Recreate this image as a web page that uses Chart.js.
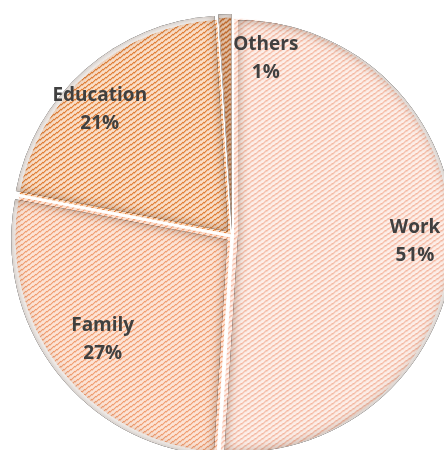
<!DOCTYPE html>
<html>
<head>
<meta charset="utf-8">
<script src="https://cdn.jsdelivr.net/npm/chart.js@4"></script>
<style>
html, body { margin: 0; padding: 0; overflow: hidden; background: #fff; }
#wrap { position: absolute; left: 0; top: 0; }
</style>
</head>
<body>
<div id="wrap"><canvas id="reasonChart" width="464" height="472"></canvas></div>
<script>
const categories = ['Work', 'Family', 'Education', 'Others'];
const shares = [51, 27, 21, 1];

// per slice: paper colour, stripe colour, stripe edge colour
const stripeColors = [
    ['#fdeee8', '#f4b39b', '#f8d2c3'],
    ['#fde4d6', '#f09a6c', '#f6c2a6'],
    ['#fadfc9', '#df762b', '#eeb07e'],
    ['#f5d2b6', '#c45a12', '#d98a50'],
];
// where each label sits: share of radius and a small turn in degrees
const labelRadius = [0.82, 0.74, 0.82, 0.81];
const labelTurn = [0, -1, -5, 13];

const canvas = document.getElementById('reasonChart');

function stripeTile(bg, ink, edge) {
    const w = 7, h = 5;
    const c = document.createElement('canvas');
    c.width = w;
    c.height = h;
    const g = c.getContext('2d');
    g.fillStyle = bg;
    g.fillRect(0, 0, w, h);
    for (let x = 0; x < w; x++) {
        const y = h - 1 - Math.round(x * h / w);
        g.fillStyle = ink;
        g.fillRect(x, (y + h) % h, 1, 1);
        g.fillStyle = edge;
        g.fillRect(x, (y + 1 + h) % h, 1, 1);
    }
    return g.createPattern(c, 'repeat');
}

function slicePath(ctx, a) {
    ctx.beginPath();
    ctx.moveTo(a.x, a.y);
    ctx.arc(a.x, a.y, a.outerRadius, a.startAngle, a.endAngle);
    ctx.closePath();
}

// soft shadow along the inside of every slice
const innerShadow = {
    id: 'innerShadow',
    afterDatasetsDraw(chart) {
        const ctx = chart.ctx;
        chart.getDatasetMeta(0).data.forEach(arc => {
            const a = arc.getProps(['x', 'y', 'startAngle', 'endAngle', 'outerRadius'], true);
            const off = arc.options.offset || 0;
            const mid = (a.startAngle + a.endAngle) / 2;
            ctx.save();
            ctx.translate(Math.cos(mid) * off, Math.sin(mid) * off);
            slicePath(ctx, a);
            ctx.clip();
            ctx.beginPath();
            ctx.rect(-1000, -1000, 3000, 3000);
            ctx.moveTo(a.x, a.y);
            ctx.arc(a.x, a.y, a.outerRadius, a.startAngle, a.endAngle);
            ctx.closePath();
            ctx.shadowColor = 'rgba(100, 70, 50, 0.5)';
            ctx.shadowBlur = 11;
            ctx.fillStyle = '#000';
            ctx.fill('evenodd');
            ctx.restore();
        });
    }
};

const sliceLabels = {
    id: 'sliceLabels',
    afterDatasetsDraw(chart) {
        const ctx = chart.ctx;
        ctx.save();
        ctx.font = 'bold 19px "Open Sans"';
        ctx.fillStyle = '#404040';
        ctx.textAlign = 'center';
        ctx.textBaseline = 'middle';
        chart.getDatasetMeta(0).data.forEach((arc, i) => {
            const a = arc.getProps(['x', 'y', 'startAngle', 'endAngle', 'outerRadius'], true);
            const off = arc.options.offset || 0;
            const mid = (a.startAngle + a.endAngle) / 2;
            const ang = mid + labelTurn[i] * Math.PI / 180;
            const r = a.outerRadius * labelRadius[i];
            const x = a.x + Math.cos(mid) * off + Math.cos(ang) * r;
            const y = a.y + Math.sin(mid) * off + Math.sin(ang) * r;
            ctx.fillText(categories[i], x, y - 14);
            ctx.fillText(shares[i] + '%', x, y + 14);
        });
        ctx.restore();
    }
};

new Chart(canvas, {
    type: 'pie',
    data: {
        labels: categories,
        datasets: [{
            data: shares,
            backgroundColor: stripeColors.map(c => stripeTile(c[0], c[1], c[2])),
            borderColor: '#fff',
            borderWidth: 1,
            offset: 6,
        }]
    },
    options: {
        responsive: false,
        animation: false,
        events: [],
        layout: { padding: { left: 12.5, right: 12.5, top: 16.5, bottom: 16.5 } },
        plugins: {
            legend: { display: false },
            tooltip: { enabled: false },
        }
    },
    plugins: [innerShadow, sliceLabels]
});
</script>
</body>
</html>
